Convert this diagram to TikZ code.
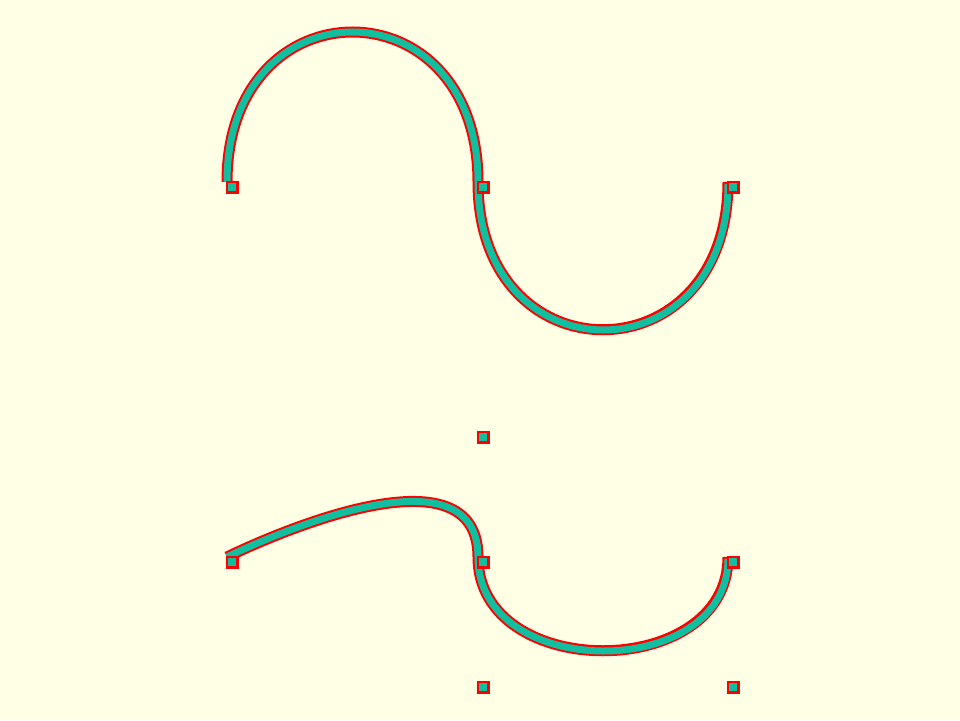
\documentclass[tikz,border=0pt]{standalone}
\definecolor{bg}{RGB}{255,255,230}
\definecolor{tealc}{RGB}{16,190,160}
\definecolor{edgec}{RGB}{255,0,0}
\begin{document}
\begin{tikzpicture}[x=1pt,y=-1pt,
  ctrl/.style={draw=edgec,fill=tealc,line width=2.5pt,minimum size=10.5pt,inner sep=0pt,outer sep=0pt,anchor=north west},
  curveout/.style={draw=edgec,line width=11pt},
  curvein/.style={draw=tealc,line width=7pt,shorten >=2pt}]
\fill[bg] (0,0) rectangle (960,720);
\useasboundingbox (0,0) rectangle (960,720);
% points
\coordinate (A) at (227,182);
\coordinate (B) at (478,182);
\coordinate (C) at (728,182);
\coordinate (M) at (478,432);
\coordinate (D) at (227,557);
\coordinate (E) at (478,557);
\coordinate (F) at (728,557);
\coordinate (G) at (478,682);
\coordinate (H) at (728,682);
% hidden control points of the upper curve
\coordinate (A1) at (227,-18);
\coordinate (B1) at (478,-18);
\coordinate (B2) at (478,379);
\coordinate (C2) at (728,379);
% upper curve
\foreach \s in {curveout,curvein}
  \draw[\s] (A) .. controls (A1) and (B1) .. (B) .. controls (B2) and (C2) .. (C);
% lower curve
\foreach \s in {curveout,curvein}
  \draw[\s] (D) .. controls (D) and (M) .. (E) .. controls (G) and (H) .. (F);
% control squares
\node[ctrl] (sA) at (A) {};
\node[ctrl] (sB) at (B) {};
\node[ctrl] (sC) at (C) {};
\node[ctrl] (sM) at (M) {};
\node[ctrl] (sD) at (D) {};
\node[ctrl] (sE) at (E) {};
\node[ctrl] (sF) at (F) {};
\node[ctrl] (sG) at (G) {};
\node[ctrl] (sH) at (H) {};
\end{tikzpicture}
\end{document}
